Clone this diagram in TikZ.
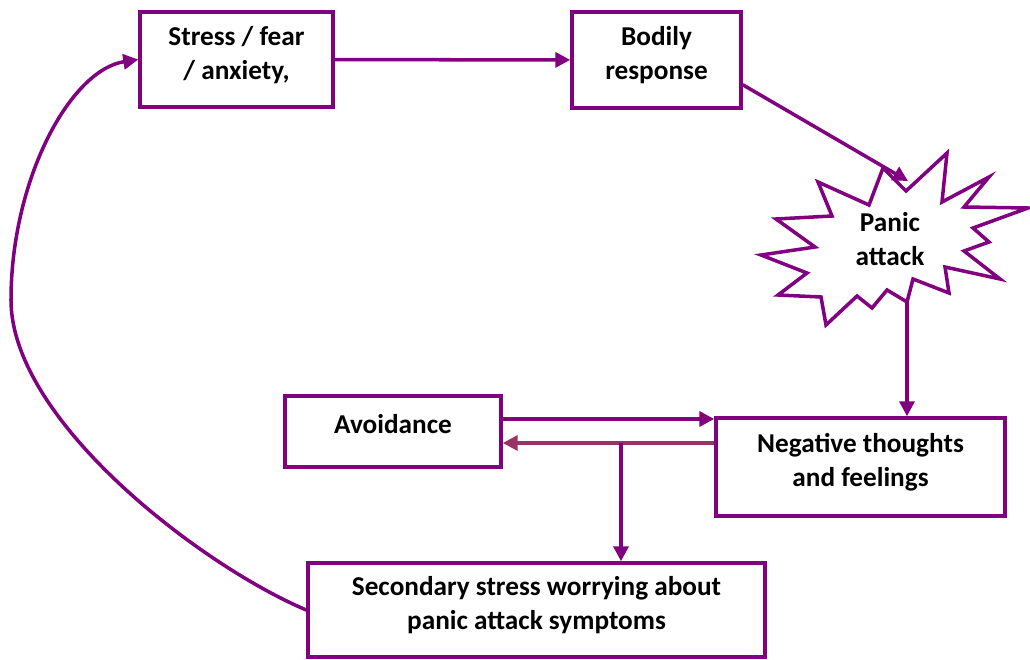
\documentclass[tikz,border=0pt]{standalone}
\usepackage{fontspec}
\setmainfont{Carlito}
\usetikzlibrary{arrows.meta}
\definecolor{plum}{HTML}{800080}
\definecolor{mauve}{HTML}{993366}

\begin{document}
\begin{tikzpicture}[x=0.02cm,y=-0.02cm,>={Triangle[length=0.3cm,width=0.3cm]},
  box/.style={draw=plum,line width=2pt,fill=white,align=center,inner sep=0pt,font=\bfseries\fontsize{15.5}{19.4}\selectfont},
  twoline/.style={text depth=0.27cm},
  link/.style={->,draw=plum,line width=2pt}]
\useasboundingbox (0,0) rectangle (1030,659);
\node[box,twoline,minimum width=3.86cm,minimum height=1.9cm] (stress) at (236.5,59.5){Stress / fear\\/ anxiety,};
\node[box,twoline,minimum width=3.38cm,minimum height=1.92cm] (bodily) at (656.5,60){Bodily\\response};
\node[box,minimum width=4.32cm,minimum height=1.42cm,text depth=0.32cm] (avoid) at (393,431.5){Avoidance};
\node[box,twoline,minimum width=5.78cm,minimum height=1.96cm] (neg) at (860.5,467){Negative thoughts\\and feelings};
\node[box,twoline,minimum width=9.14cm,minimum height=1.88cm] (sec) at (536.5,610){Secondary stress worrying about\\panic attack symptoms};
% the burst
\draw[plum,line width=2pt,fill=white] (883,168)--(906,191)--(947,153)--(942,202)--(989,177)--(964,207)--(1028,208)--(973,228)
  --(989,242)--(964,251)--(1000,279)--(945,267)--(949,293)--(913,279)--(907,302)--(887,290)--(872,308)--(857,296)
  --(826,325)--(821,297)--(778,295)--(807,273)--(761,255)--(815,247)--(776,219)--(832,216)--(818,182)--(869,205)--cycle;
\node[align=center,inner sep=0pt,font=\bfseries\fontsize{15.5}{19.4}\selectfont] (panic) at (890,239){Panic\\attack};
\coordinate (ptop) at (908,181);
\coordinate (pbot) at (907,302);
\coordinate (split) at (621,443);
\draw[link] (stress) -- (bodily);
\draw[link] (bodily.-16) -- (ptop);
\draw[link] (pbot) -- (pbot |- neg.north);
\draw[link] (avoid.east |- 0,419) -- (neg.west |- 0,419);
\draw[->,draw=mauve,line width=2pt] (neg.west |- 0,443) -- (avoid.east |- 0,443);
\draw[link] (split) -- (split |- sec.north);
\draw[link] (sec.west) .. controls (200,565) and (11,420) .. (11,300) .. controls (11,180) and (70,70) .. (stress.west);
\end{tikzpicture}
\end{document}
